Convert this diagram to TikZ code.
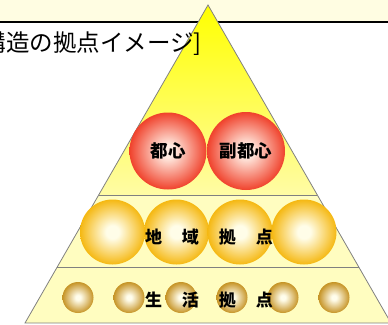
\documentclass[tikz,border=0pt]{standalone}
\usepackage{fontspec}
\newfontfamily\jpfont{Noto Sans CJK JP}
\usetikzlibrary{calc}

\definecolor{headcream}{RGB}{255,253,226}
\definecolor{bandpale}{RGB}{255,253,192}
\definecolor{edgegray}{RGB}{128,128,128}
\definecolor{topyellow}{RGB}{255,255,0}
\definecolor{toppale}{RGB}{255,252,165}
\definecolor{redcore}{RGB}{255,236,226}
\definecolor{redrim}{RGB}{240,66,44}
\definecolor{orangecore}{RGB}{255,253,232}
\definecolor{orangerim}{RGB}{245,184,18}
\definecolor{goldcore}{RGB}{255,253,236}
\definecolor{goldrim}{RGB}{198,148,38}

\pgfdeclareradialshading{redball}{\pgfpoint{0bp}{0bp}}%
  {color(0bp)=(redcore); color(4bp)=(redcore); color(25bp)=(redrim); color(50bp)=(redrim)}
\pgfdeclareradialshading{orangeball}{\pgfpoint{0bp}{0bp}}%
  {color(0bp)=(orangecore); color(5bp)=(orangecore); color(25bp)=(orangerim); color(50bp)=(orangerim)}
\pgfdeclareradialshading{goldball}{\pgfpoint{0bp}{0bp}}%
  {color(0bp)=(goldcore); color(4bp)=(goldcore); color(25bp)=(goldrim); color(50bp)=(goldrim)}

\tikzset{
  ball/.style={circle,inner sep=0pt,minimum size=#1},
  centrelabel/.style={font=\jpfont\bfseries\fontsize{17.5}{17.5}\selectfont},
  tierlabel/.style={font=\jpfont\bfseries\fontsize{17}{17}\selectfont,inner sep=0pt},
}

\begin{document}
\begin{tikzpicture}[x=1pt,y=-1pt]
      \useasboundingbox (0,0) rectangle (388,324);
      \clip (0,0) rectangle (388,324);

      %%%%%%%%%%%%%%%%%%%%%%%%%%%%%%%%%%%%%%%%%%%%%%%%%%%%%%%%%%%%%%%%%%%%%%%%%%%
      %%%%  Heading band
      \fill[headcream] (0,0) rectangle (388,22);
      \draw[line width=1.6pt] (0,22) -- (388,22);

      %%%%%%%%%%%%%%%%%%%%%%%%%%%%%%%%%%%%%%%%%%%%%%%%%%%%%%%%%%%%%%%%%%%%%%%%%%%
      %%%%  Pyramid
      \coordinate (apex) at (208,5);
      \coordinate (baseL) at (25,323);
      \coordinate (baseR) at (391,323);
      \coordinate (tierAL) at ($(apex)!0.5975!(baseL)$);
      \coordinate (tierAR) at ($(apex)!0.5975!(baseR)$);
      \coordinate (tierBL) at ($(apex)!0.824!(baseL)$);
      \coordinate (tierBR) at ($(apex)!0.824!(baseR)$);

      \shade[top color=topyellow,bottom color=toppale]
        (apex) -- (tierAL) -- (tierAR) -- cycle;
      \fill[bandpale] (tierAL) -- (tierBL) -- (baseL) -- (baseR) -- (tierBR) -- (tierAR) -- cycle;

      \draw[edgegray,line width=0.8pt] (apex) -- (baseL) -- (baseR) -- cycle;
      \draw[edgegray,line width=1pt] (tierAL) -- (tierAR);
      \draw[edgegray,line width=1pt] (tierBL) -- (tierBR);

      %%%%%%%%%%%%%%%%%%%%%%%%%%%%%%%%%%%%%%%%%%%%%%%%%%%%%%%%%%%%%%%%%%%%%%%%%%%
      %%%%  Centres
      \node[ball=77pt,shading=redball,centrelabel] (toshin) at (168,151) {都心};
      \node[ball=78pt,shading=redball,centrelabel] (fukutoshin) at (246,151) {副都心};

      %%%%  Regional
      \foreach \cx [count=\i] in {112.5,176.5,240,304}
       {\node[ball=65pt,shading=orangeball] (chiiki\i) at (\cx,232) {};
       };

      %%%%  Local
      \foreach \cx [count=\i] in {78,129,181,232,283,334}
       {\node[ball=31pt,shading=goldball] (seikatsu\i) at (\cx,297.5) {};
       };

      \node[tierlabel] (chiikilabel) at (209,237)
        {地\hspace{20pt}域\hspace{20pt}拠\hspace{20pt}点};
      \node[tierlabel] (seikatsulabel) at (209,300)
        {生\hspace{20pt}活\hspace{20pt}拠\hspace{20pt}点};

      %%%%%%%%%%%%%%%%%%%%%%%%%%%%%%%%%%%%%%%%%%%%%%%%%%%%%%%%%%%%%%%%%%%%%%%%%%%
      \node[anchor=base east,inner sep=0pt,font=\jpfont\fontsize{23.5}{23.5}\selectfont]
        (heading) at (202,51) {構造の拠点イメージ]};
    \end{tikzpicture}
\end{document}
